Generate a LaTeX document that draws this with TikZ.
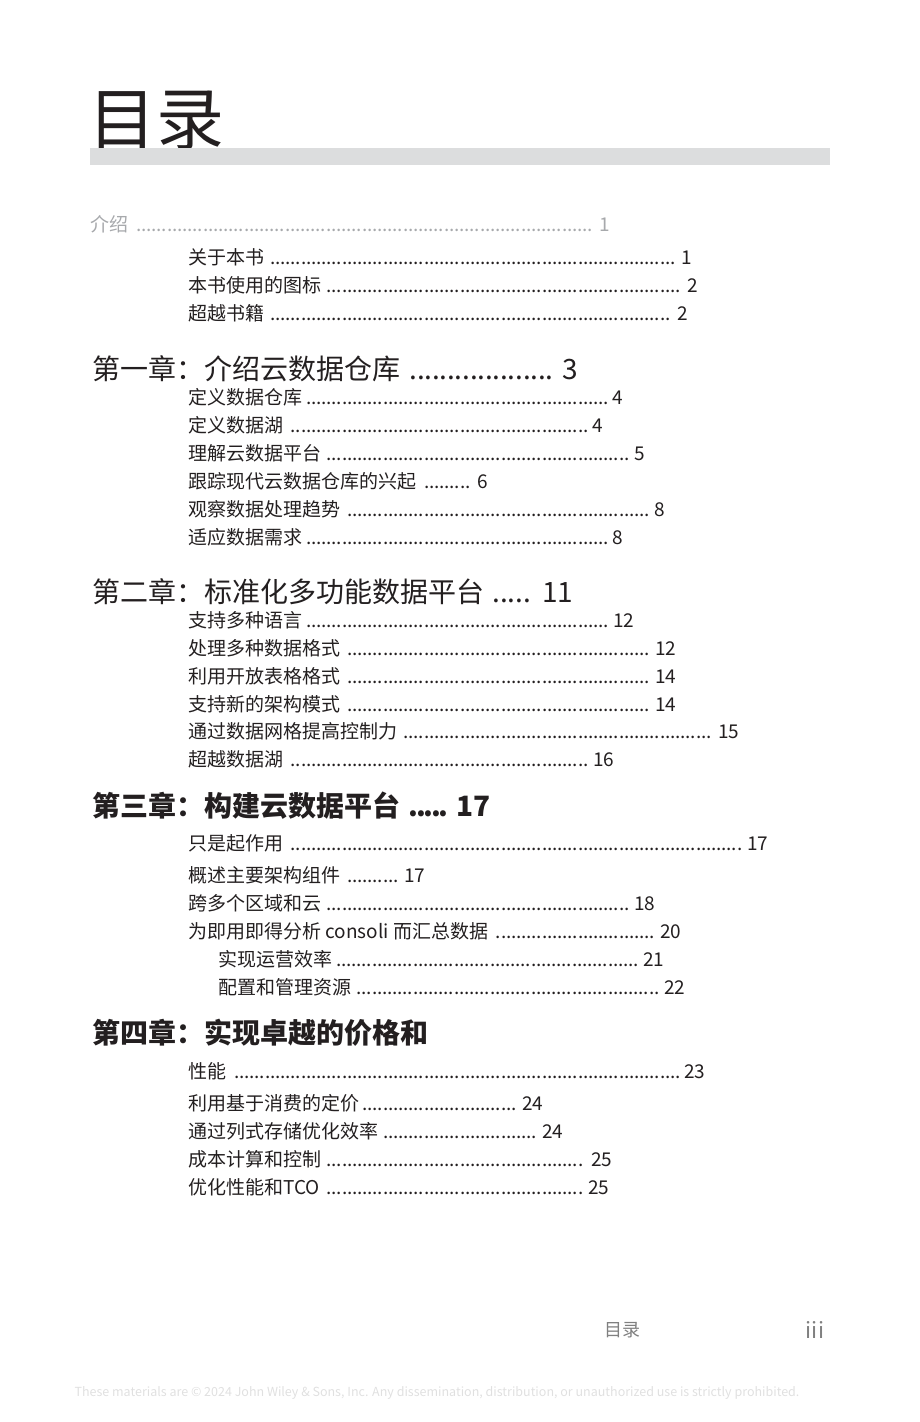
\documentclass[tikz,border=0pt]{standalone}
\usepackage{fontspec}
\setmainfont{Noto Sans CJK SC}
\newfontfamily\cjk{Noto Sans CJK SC}
\definecolor{barg}{HTML}{DCDDDE}
\definecolor{txt}{HTML}{231F20}
\definecolor{lg}{HTML}{A7A9AC}
\newcommand\tocline[7]{% name x y right size text num
 \node[anchor=west,inner sep=0,font=\fontsize{#5}{#5}\selectfont] (#1) at (#2,#3)
 {\hbox to \dimexpr #4pt-#2pt\relax{#6\,\leaders\hbox to 0.27em{\hss.\hss}\hfill\,#7}};}
\begin{document}
\begin{tikzpicture}[x=1pt,y=-1pt,every node/.style={text=txt}]
\useasboundingbox (0,0) rectangle (920,1422);
\node[anchor=west,inner sep=0,font=\fontsize{68}{68}\selectfont] (title) at (88,120) {目录};
\fill[barg] (90,148) rectangle (830,165);
\begin{scope}[every node/.style={text=lg}]
\tocline{a0}{90}{224}{610}{19}{介绍}{1}
\end{scope}
\tocline{a1}{188}{257}{692}{19}{关于本书}{1}
\tocline{a2}{188}{285}{698}{19}{本书使用的图标}{2}
\tocline{a3}{188}{313}{688}{19}{超越书籍}{2}
\tocline{c1}{92}{369}{578}{28}{第一章：介绍云数据仓库}{3}
\tocline{b1}{188}{397}{623}{19}{定义数据仓库}{4}
\tocline{b2}{188}{425}{603}{19}{定义数据湖}{4}
\tocline{b3}{188}{453}{645}{19}{理解云数据平台}{5}
\tocline{b4}{188}{481}{488}{19}{跟踪现代云数据仓库的兴起}{6}
\tocline{b5}{188}{509}{665}{19}{观察数据处理趋势}{8}
\tocline{b6}{188}{537}{623}{19}{适应数据需求}{8}
\tocline{c2}{92}{592}{573}{28}{第二章：标准化多功能数据平台}{11}
\tocline{d1}{188}{620}{634}{19}{支持多种语言}{12}
\tocline{d2}{188}{648}{676}{19}{处理多种数据格式}{12}
\tocline{d3}{188}{676}{676}{19}{利用开放表格格式}{14}
\tocline{d4}{188}{704}{676}{19}{支持新的架构模式}{14}
\tocline{d5}{188}{731}{739}{19}{通过数据网格提高控制力}{15}
\tocline{d6}{188}{759}{614}{19}{超越数据湖}{16}
\tocline{c3}{92}{806}{490}{28}{\bfseries 第三章：构建云数据平台}{\bfseries 17}
\tocline{e1}{188}{843}{768}{19}{只是起作用}{17}
\tocline{e2}{188}{875}{425}{19}{概述主要架构组件}{17}
\tocline{e3}{188}{903}{655}{19}{跨多个区域和云}{18}
\tocline{e4}{188}{931}{681}{19}{为即用即得分析 consoli 而汇总数据}{20}
\tocline{e5}{218}{959}{664}{19}{实现运营效率}{21}
\tocline{e6}{218}{987}{685}{19}{配置和管理资源}{22}
\node[anchor=west,inner sep=0,font=\fontsize{28}{28}\selectfont\bfseries] (c4) at (92,1033) {第四章：实现卓越的价格和};
\tocline{f1}{188}{1071}{705}{19}{性能}{23}
\tocline{f2}{188}{1103}{543}{19}{利用基于消费的定价}{24}
\tocline{f3}{188}{1131}{563}{19}{通过列式存储优化效率}{24}
\tocline{f4}{188}{1159}{612}{19}{成本计算和控制}{25}
\tocline{f5}{188}{1187}{609}{19}{优化性能和TCO}{25}
\node[font=\fontsize{18}{18}\selectfont,text=gray] (ft) at (622,1330) {目录};
\node[font=\fontsize{22}{22}\selectfont,text=gray] (pg) at (815,1330) {iii};
\node[font=\fontsize{12.5}{12.5}\selectfont,text=black!12] (cp) at (437,1393) {These materials are © 2024 John Wiley \& Sons, Inc. Any dissemination, distribution, or unauthorized use is strictly prohibited.};
\end{tikzpicture}
\end{document}
